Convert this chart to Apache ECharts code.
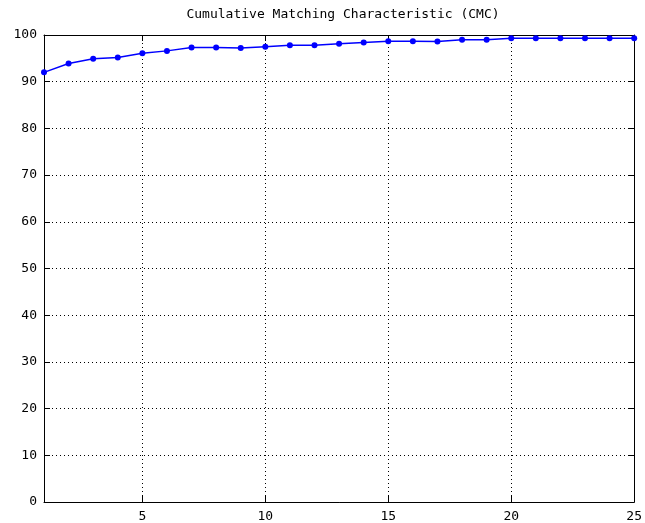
<!DOCTYPE html>
<html>
<head>
<meta charset="utf-8">
<script src="https://cdn.jsdelivr.net/npm/echarts@6/dist/echarts.min.js"></script>
<style>
  html, body { margin: 0; padding: 0; background: #fff; }
  #chart { width: 645px; height: 523px; }
</style>
</head>
<body>
<div id="chart"></div>
<script>
// rank 1..25 and the matching rate in percent
const ranks = [1, 2, 3, 4, 5, 6, 7, 8, 9, 10, 11, 12, 13, 14, 15, 16, 17, 18, 19, 20, 21, 22, 23, 24, 25];
const rates = [92.0, 93.9, 94.9, 95.2, 96.1, 96.6, 97.3, 97.3, 97.2, 97.5, 97.8, 97.8, 98.1, 98.4, 98.65,
               98.65, 98.6, 99.0, 99.0, 99.3, 99.3, 99.3, 99.3, 99.3, 99.3];
const xTicks = [5, 10, 15, 20, 25];
const chartTitle = 'Cumulative Matching Characteristic (CMC)';

const font = 'DejaVu Sans Mono';
const black = '#000';

const myChart = echarts.init(document.getElementById('chart'));

const dotted = { show: true, lineStyle: { color: black, type: [1, 3], width: 1 } };

const option = {
    animation: false,
    title: {
        text: chartTitle,
        left: 338,
        top: 3,
        textAlign: 'center',
        textStyle: { fontFamily: font, fontSize: 13, fontWeight: 'normal', color: black }
    },
    grid: { left: 44, right: 8, top: 35, bottom: 20, containLabel: false },
    xAxis: [
        {
            type: 'value', min: 1, max: 25,
            axisLine: { show: true, onZero: false, lineStyle: { color: black, width: 1 } },
            axisTick: { show: true, inside: true, length: 6, customValues: xTicks, lineStyle: { color: black } },
            axisLabel: { customValues: xTicks, fontFamily: font, fontSize: 13, color: black, margin: 8 },
            splitLine: dotted
        },
        {
            type: 'value', min: 1, max: 25, position: 'top',
            axisLine: { show: true, onZero: false, lineStyle: { color: black, width: 1 } },
            axisTick: { show: true, inside: true, length: 6, customValues: xTicks, lineStyle: { color: black } },
            axisLabel: { show: false },
            splitLine: { show: false }
        }
    ],
    yAxis: [
        {
            type: 'value', min: 0, max: 100, interval: 10,
            axisLine: { show: true, lineStyle: { color: black, width: 1 } },
            axisTick: { show: true, inside: true, length: 6, lineStyle: { color: black } },
            axisLabel: { fontFamily: font, fontSize: 13, color: black, margin: 7 },
            splitLine: dotted
        },
        {
            type: 'value', min: 0, max: 100, interval: 10, position: 'right',
            axisLine: { show: true, lineStyle: { color: black, width: 1 } },
            axisTick: { show: true, inside: true, length: 6, lineStyle: { color: black } },
            axisLabel: { show: false },
            splitLine: { show: false }
        }
    ],
    series: [
        {
            type: 'line',
            data: ranks.map((r, i) => [r, rates[i]]),
            symbol: 'circle',
            symbolSize: 6,
            showAllSymbol: true,
            lineStyle: { color: '#0000ff', width: 1.5 },
            itemStyle: { color: '#0000ff' }
        }
    ]
};

myChart.setOption(option);
</script>
</body>
</html>
